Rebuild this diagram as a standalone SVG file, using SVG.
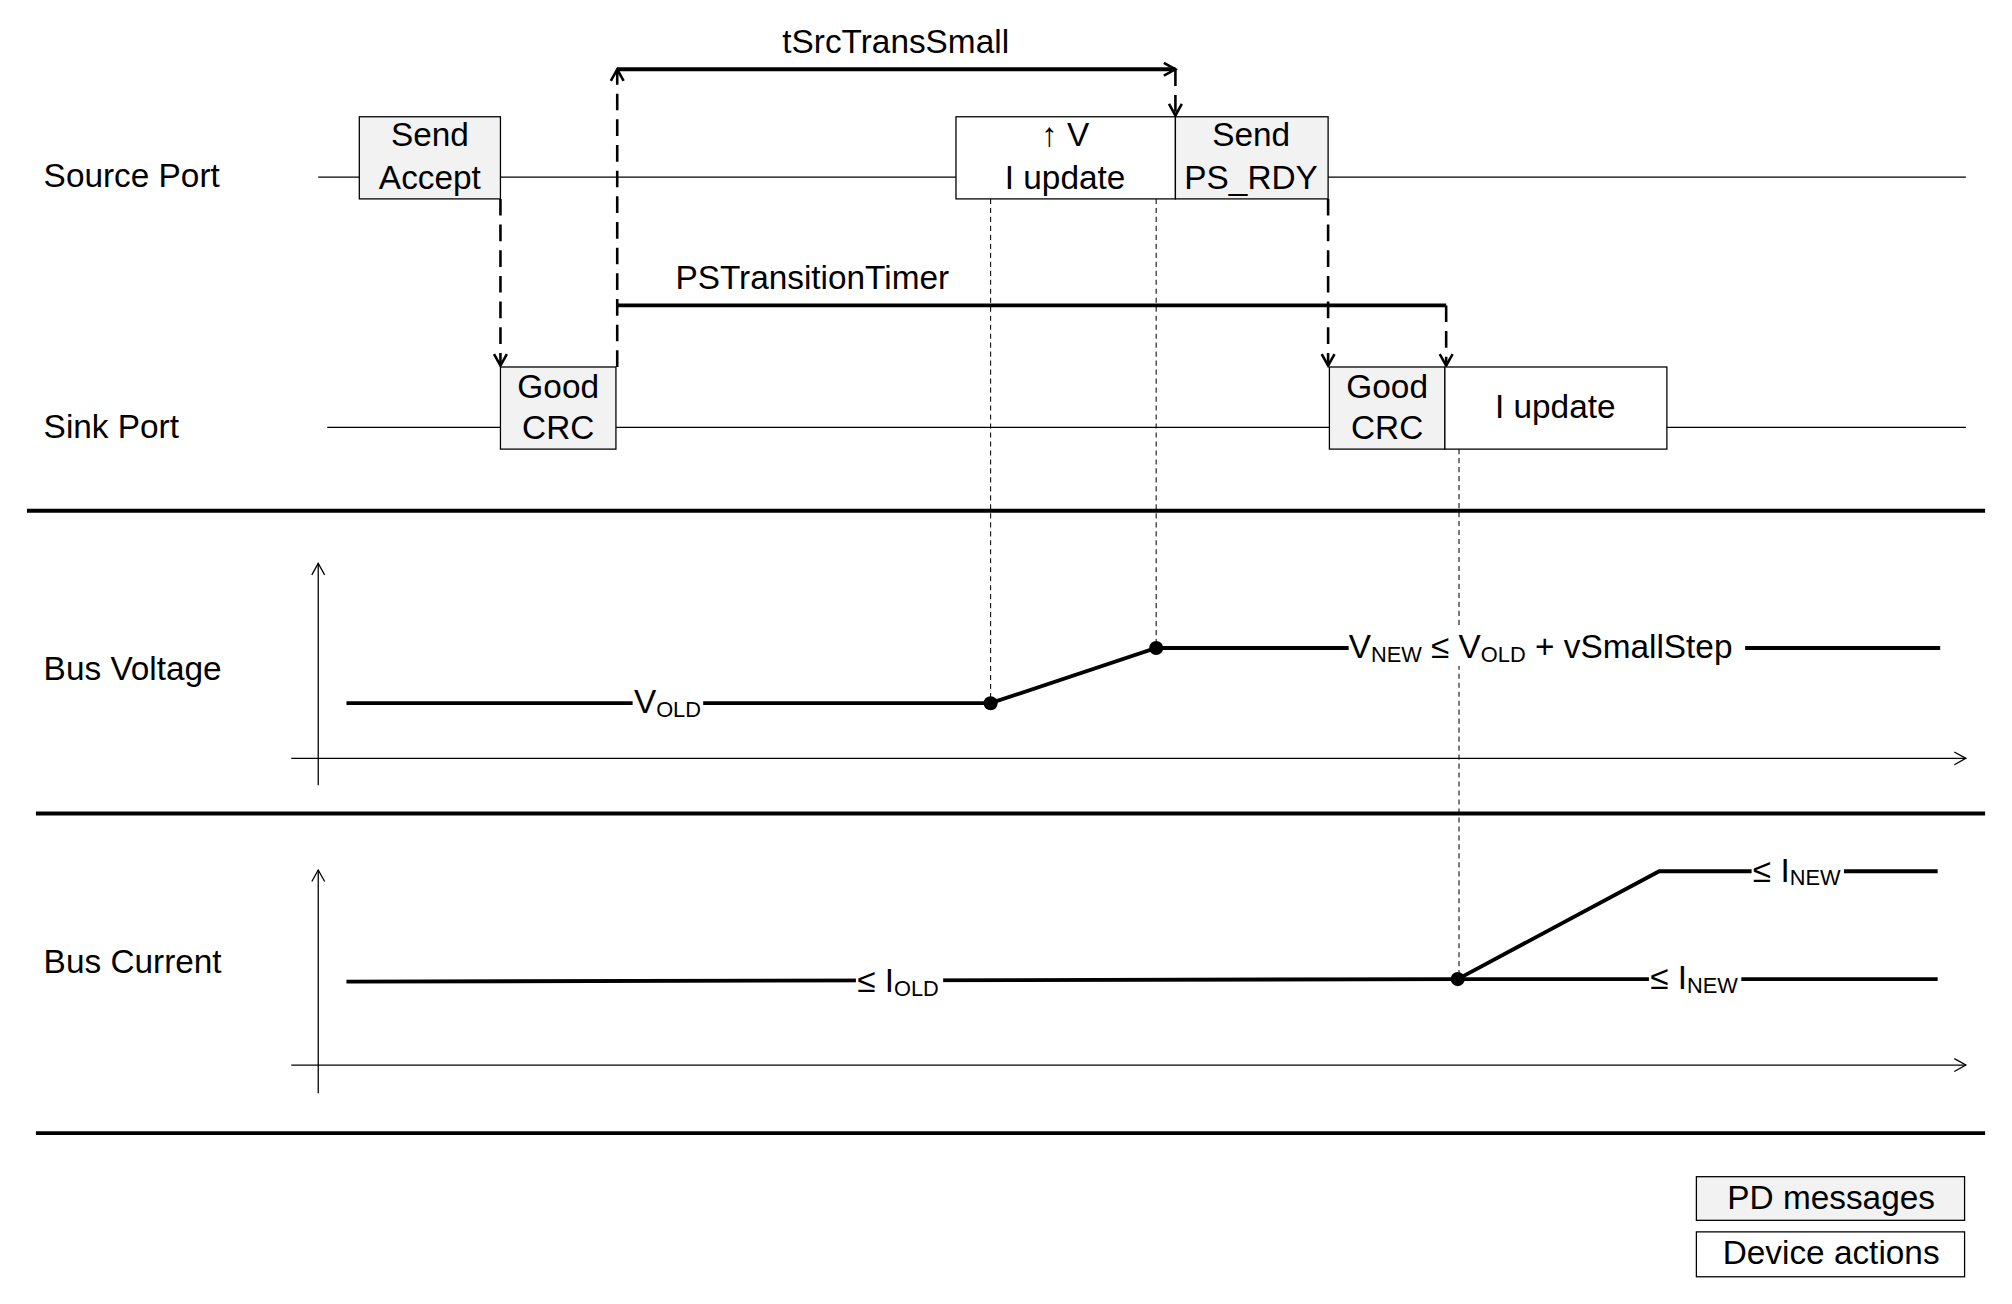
<svg xmlns="http://www.w3.org/2000/svg" width="2012" height="1304" viewBox="0 0 2012 1304">
<style>
text{font-family:"Liberation Sans",Arial,sans-serif;font-size:26px;fill:#000}
.c{text-anchor:middle}
.thin{stroke:#000;stroke-width:1;fill:none}
.thick{stroke:#000;stroke-width:3;fill:none}
.sig{stroke:#000;stroke-width:3;fill:none}
.dash{stroke:#000;stroke-width:2;fill:none;stroke-dasharray:13,7}
.fdash{stroke:#000;stroke-width:0.8;fill:none;stroke-dasharray:4,3}
.msg{fill:#f2f2f2;stroke:#000;stroke-width:1}
.act{fill:#fff;stroke:#000;stroke-width:1}
.lab{fill:#fff}
</style>
<defs>
<marker id="a" markerWidth="14" markerHeight="14" refX="10" refY="6" orient="auto" markerUnits="userSpaceOnUse"><path d="M1,1 L10,6 L1,11" fill="none" stroke="#000" stroke-width="2"/></marker>
<marker id="t" markerWidth="14" markerHeight="14" refX="10" refY="6" orient="auto" markerUnits="userSpaceOnUse"><path d="M1,1 L10,6 L1,11" fill="none" stroke="#000" stroke-width="1"/></marker>
</defs>
<rect width="2012" height="1304" fill="#fff"/>
<g transform="scale(1.2832)">
<g id="rows">
<text x="34" y="146">Source Port</text>
<text x="34" y="341">Sink Port</text>
<text x="34" y="530">Bus Voltage</text>
<text x="34" y="758">Bus Current</text>
<line class="thin" x1="248" y1="138" x2="1532" y2="138"/>
<line class="thin" x1="255" y1="333" x2="1532" y2="333"/>
<line class="thick" x1="21" y1="398" x2="1547" y2="398"/>
<line class="thick" x1="28" y1="634" x2="1547" y2="634"/>
<line class="thick" x1="28" y1="883" x2="1547" y2="883"/>
</g>
<g id="connectors">
<line class="fdash" x1="772" y1="155" x2="772" y2="548"/>
<line class="fdash" x1="901" y1="155" x2="901" y2="505"/>
<line class="fdash" x1="1137" y1="350" x2="1137" y2="763"/>
<line class="dash" x1="390" y1="155" x2="390" y2="285" marker-end="url(#a)"/>
<line class="dash" x1="481" y1="286" x2="481" y2="54" marker-end="url(#a)"/>
<line class="sig" x1="481" y1="54" x2="916" y2="54" marker-end="url(#a)"/>
<line class="dash" x1="916" y1="54" x2="916" y2="90" marker-end="url(#a)"/>
<line class="sig" x1="481" y1="238" x2="1127" y2="238"/>
<line class="dash" x1="1127" y1="238" x2="1127" y2="285" marker-end="url(#a)"/>
<line class="dash" x1="1035" y1="155" x2="1035" y2="285" marker-end="url(#a)"/>
<text class="c" x="698" y="41">tSrcTransSmall</text>
<text class="c" x="633" y="225">PSTransitionTimer</text>
</g>
<g id="send-accept"><rect class="msg" x="280" y="91" width="110" height="64"/><text class="c" x="335" y="114">Send</text><text class="c" x="335" y="147">Accept</text></g>
<g id="v-update"><rect class="act" x="745" y="91" width="171" height="64"/><text class="c" x="830" y="114">↑ V</text><text class="c" x="830" y="147">I update</text></g>
<g id="send-psrdy"><rect class="msg" x="916" y="91" width="119" height="64"/><text class="c" x="975" y="114">Send</text><text class="c" x="975" y="147">PS_RDY</text></g>
<g id="goodcrc1"><rect class="msg" x="390" y="286" width="90" height="64"/><text class="c" x="435" y="310">Good</text><text class="c" x="435" y="342">CRC</text></g>
<g id="goodcrc2"><rect class="msg" x="1036" y="286" width="90" height="64"/><text class="c" x="1081" y="310">Good</text><text class="c" x="1081" y="342">CRC</text></g>
<g id="sink-iupdate"><rect class="act" x="1126" y="286" width="173" height="64"/><text class="c" x="1212" y="326">I update</text></g>
<g id="voltage">
<line class="thin" x1="248" y1="612" x2="248" y2="439" marker-end="url(#t)"/>
<line class="thin" x1="227" y1="591" x2="1532" y2="591" marker-end="url(#t)"/>
<polyline class="sig" points="270,548 772,548 901,505 1512,505"/>
<circle cx="772" cy="548" r="5.5"/><circle cx="901" cy="505" r="5.5"/>
<rect class="lab" x="493" y="532" width="55" height="30"/>
<text x="494" y="556">V<tspan font-size="17" dy="3">OLD</tspan></text>
<rect class="lab" x="1051" y="489" width="309" height="30"/>
<text x="1051" y="513">V<tspan font-size="17" dy="3">NEW</tspan><tspan dy="-3"> ≤ V</tspan><tspan font-size="17" dy="3">OLD</tspan><tspan dy="-3"> + vSmallStep</tspan></text>
</g>
<g id="current">
<line class="thin" x1="248" y1="852" x2="248" y2="678" marker-end="url(#t)"/>
<line class="thin" x1="227" y1="830" x2="1532" y2="830" marker-end="url(#t)"/>
<polyline class="sig" points="270,765 1136,763 1510,763"/>
<polyline class="sig" points="1136,763 1293,679 1510,679"/>
<circle cx="1136" cy="763" r="5.5"/>
<rect class="lab" x="667" y="749" width="68" height="30"/>
<text x="668" y="773">≤ I<tspan font-size="17" dy="3">OLD</tspan></text>
<rect class="lab" x="1285" y="747" width="72" height="30"/>
<text x="1286" y="771">≤ I<tspan font-size="17" dy="3">NEW</tspan></text>
<rect class="lab" x="1365" y="663" width="72" height="30"/>
<text x="1366" y="687">≤ I<tspan font-size="17" dy="3">NEW</tspan></text>
</g>
<g id="legend">
<rect class="msg" x="1322" y="917" width="209" height="34" stroke-width="2"/><text class="c" x="1427" y="942">PD messages</text>
<rect class="act" x="1322" y="960" width="209" height="35" stroke-width="2"/><text class="c" x="1427" y="985">Device actions</text>
</g>
</g>
</svg>
